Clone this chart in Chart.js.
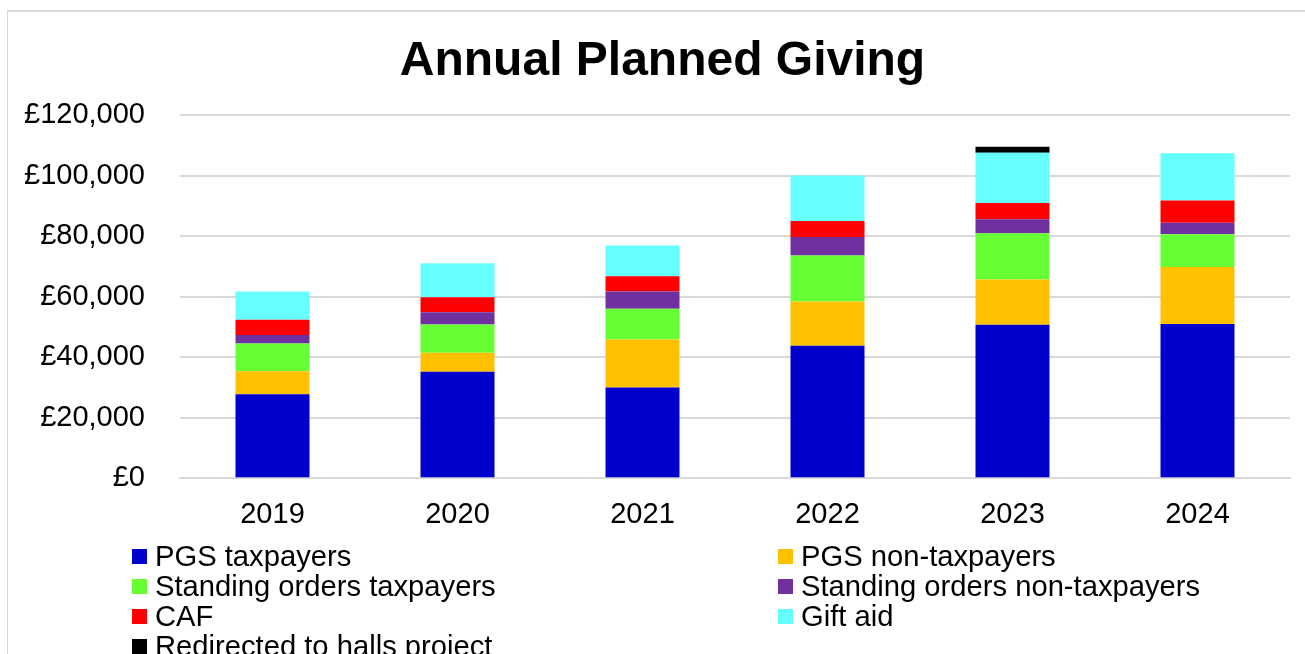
<!DOCTYPE html>
<html>
<head>
<meta charset="utf-8">
<script src="https://cdn.jsdelivr.net/npm/chart.js@4"></script>
<style>
  html, body { margin: 0; padding: 0; background: #fff; }
  body { width: 1305px; height: 654px; position: relative; overflow: hidden; font-family: "Liberation Sans", Arial, sans-serif; }
  #frame { position: absolute; left: 7px; top: 10px; width: 1400px; height: 800px; border-left: 1.5px solid #d9d9d9; border-top: 2px solid #d9d9d9; }
  #c { position: absolute; left: 0; top: 0; }
  #title { position: absolute; left: 0; width: 1325px; top: 35px; text-align: center; font-size: 48px; line-height: 48px; font-weight: bold; color: #000; white-space: nowrap; }
  .lg { position: absolute; font-size: 29.2px; line-height: 30px; color: #000; white-space: nowrap; }
  .box { position: absolute; width: 15px; height: 15px; }
</style>
</head>
<body>
<div id="frame"></div>
<canvas id="c" width="1305" height="564"></canvas>
<div id="title"></div>
<div id="legend"></div>
<script>
const chartTitle = "Annual Planned Giving";
const categories = ["2019", "2020", "2021", "2022", "2023", "2024"];
const seriesNames = ["PGS taxpayers", "PGS non-taxpayers", "Standing orders taxpayers", "Standing orders non-taxpayers", "CAF", "Gift aid", "Redirected to halls project"];
const pgsTaxpayers        = [27750, 35140, 29940, 43760, 50720, 50950];
const pgsNonTaxpayers     = [7620, 6300, 15910, 14580, 14920, 18800];
const soTaxpayers         = [9150, 9380, 10170, 15250, 15250, 10810];
const soNonTaxpayers      = [2780, 3980, 5640, 6080, 4640, 3870];
const caf                 = [5080, 4970, 5080, 5290, 5410, 7300];
const giftAid             = [9280, 11270, 10170, 15040, 16570, 15670];
const redirectedHalls     = [0, 0, 0, 0, 1990, 0];
const yTicks = [0, 20000, 40000, 60000, 80000, 100000, 120000];

const seriesValues = [pgsTaxpayers, pgsNonTaxpayers, soTaxpayers, soNonTaxpayers, caf, giftAid, redirectedHalls];
const colors = ["#0000CC", "#FFC000", "#66FF33", "#7030A0", "#FF0000", "#66FFFF", "#000000"];
const FONT = "'Liberation Sans', Arial, sans-serif";

document.getElementById('title').textContent = chartTitle;

const datasets = seriesNames.map((n, i) => ({
  label: n,
  data: seriesValues[i],
  backgroundColor: colors[i],
  borderWidth: 0,
  barPercentage: 0.4,
  categoryPercentage: 1.0
}));

const chart = new Chart(document.getElementById('c'), {
  type: 'bar',
  data: { labels: categories, datasets },
  options: {
    responsive: false,
    animation: false,
    devicePixelRatio: 1,
    layout: { padding: { left: 24, right: 15, top: 115, bottom: 13 } },
    plugins: {
      legend: { display: false },
      tooltip: { enabled: false },
      title: { display: false }
    },
    scales: {
      x: {
        stacked: true,
        grid: { display: false, drawTicks: false },
        border: { display: true, color: '#d9d9d9', width: 2 },
        ticks: { color: '#000', font: { family: FONT, size: 29 }, padding: 19 }
      },
      y: {
        stacked: true,
        min: yTicks[0],
        max: yTicks[yTicks.length - 1],
        afterBuildTicks: (axis) => { axis.ticks = yTicks.map(v => ({ value: v })); },
        afterFit: (axis) => { axis.width = 156; },
        grid: { color: '#d9d9d9', lineWidth: 2, drawTicks: false },
        border: { display: false },
        ticks: {
          color: '#000',
          font: { family: FONT, size: 29 },
          padding: 35,
          callback: (v) => '£' + Number(v).toLocaleString('en-GB')
        }
      }
    }
  }
});

// HTML legend built from the chart's datasets (two columns, row-major)
const legend = document.getElementById('legend');
const colX = [132, 778];
const rowTop = 541;
chart.data.datasets.forEach((ds, i) => {
  const col = i % 2, row = Math.floor(i / 2);
  const d = document.createElement('div');
  d.className = 'lg';
  d.style.left = (colX[col] + 23) + 'px';
  d.style.top = (rowTop + row * 30) + 'px';
  d.textContent = ds.label;
  const b = document.createElement('span');
  b.className = 'box';
  b.style.background = ds.backgroundColor;
  b.style.left = (colX[col]) + 'px';
  b.style.top = (rowTop + row * 30 + 8) + 'px';
  legend.appendChild(d);
  legend.appendChild(b);
});
</script>
</body>
</html>
